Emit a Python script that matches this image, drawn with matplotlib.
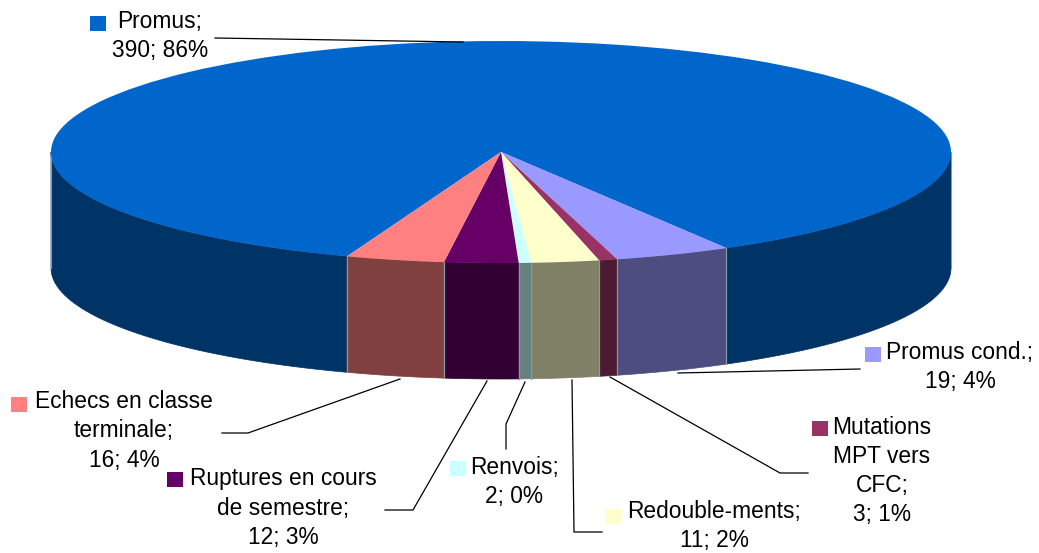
import numpy as np
from matplotlib import pyplot as plt
from matplotlib.patches import Polygon, Rectangle
from matplotlib.transforms import Affine2D

plt.rcParams['font.family'] = ['Liberation Sans', 'DejaVu Sans']

names = ['Promus', 'Promus cond.', 'Mutations\nMPT vers\nCFC', 'Redouble-ments', 'Renvois',
         'Ruptures en cours\nde semestre', 'Echecs en classe\nterminale']
values = [390, 19, 3, 11, 2, 12, 16]
colors = ['#0066CC', '#9999FF', '#993366', '#FFFFCC', '#CCFFFF', '#660066', '#FF8080']

# geometry of the tilted pie, in pixels of the picture
cx, cy = 501, 152
rx, ry = 450, 111
depth = 116
start_angle = 250

# label centre, swatch corner, leader line for each slice
label_pos = [(160, 36), (960, 367), (882, 471), (714, 526), (514, 482), (283, 508), (124, 431)]
swatch_pos = [(90, 16), (865, 347), (812, 421), (606, 509), (450, 461), (167, 472), (11, 397)]
leaders = [[(215, 38), (463, 42)],
           [(678, 373), (860, 369)],
           [(610, 377), (780, 473), (808, 473)],
           [(572, 380), (574, 532), (602, 532)],
           [(525, 382), (506, 424), (506, 449)],
           [(487, 381), (413, 510), (385, 510)],
           [(400, 379), (248, 433), (222, 433)]]

fig = plt.figure(figsize=(10.39, 5.53), dpi=100)
ax = fig.add_axes([0, 0, 1, 1])

# top of the pie: unit circle squashed to the ellipse
wedges, _ = ax.pie(values, colors=colors, startangle=start_angle, counterclock=False)
squash = Affine2D().scale(rx, -ry).translate(cx, cy) + ax.transData
for w in wedges:
    w.set_transform(squash)
    w.set_zorder(3)

ax.set_aspect('auto')
ax.set_xlim(0, 1039)
ax.set_ylim(553, 0)
ax.axis('off')

# front wall, only the part of each slice on the lower half of the ellipse
total = sum(values)
a1 = start_angle
for i in range(len(values)):
    a2 = a1 - 360 * values[i] / total
    side = [c * 0.5 for c in plt.matplotlib.colors.to_rgb(colors[i])]
    for k in (0, 360):
        lo = max(a2 + k, 180)
        hi = min(a1 + k, 360)
        if lo >= hi:
            continue
        t = np.radians(np.linspace(lo, hi, 80))
        x = cx + rx * np.cos(t)
        y = cy - ry * np.sin(t)
        pts = np.r_[np.c_[x, y], np.c_[x[::-1], y[::-1] + depth]]
        ax.add_patch(Polygon(pts, closed=True, facecolor=side, edgecolor=side, lw=0.5, zorder=1))
        # thin light seams between the walls
        for xe, ye in ((x[0], y[0]), (x[-1], y[-1])):
            ax.plot([xe, xe], [ye, ye + depth], color='#8a9aa5', lw=0.8, zorder=2)
    a1 = a2

for i in range(len(values)):
    pct = round(100 * values[i] / total)
    label = f'{names[i]};\n{values[i]}; {pct}%'
    ax.text(label_pos[i][0], label_pos[i][1], label, ha='center', va='center', multialignment='center',
            fontsize=16.4, color='black', linespacing=1.35, zorder=5)
    ax.add_patch(Rectangle(swatch_pos[i], 15.5, 15, facecolor=colors[i], edgecolor='none', zorder=5))
    lx, ly = zip(*leaders[i])
    ax.plot(lx, ly, color='black', lw=0.9, zorder=4)

fig.savefig('out.png', dpi=100, facecolor='white')
